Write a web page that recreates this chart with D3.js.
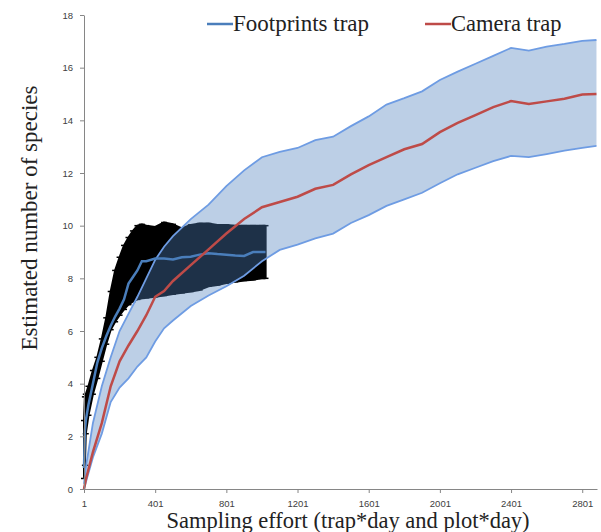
<!DOCTYPE html>
<html>
<head>
<meta charset="utf-8">
<script src="https://cdn.jsdelivr.net/npm/d3@7"></script>
<style>
  body { margin: 0; background: #fff; }
  .axis path, .axis line { stroke: #868686; }
  .axis text { font-family: "Liberation Sans", Arial, sans-serif; font-size: 9.5px; fill: #404040; }
  .title { font-family: "Liberation Serif", serif; fill: #222; }
</style>
</head>
<body>
<div id="chart"></div>
<script>
// tick labels
const xTickValues = [1, 401, 801, 1201, 1601, 2001, 2401, 2801];
const yTickValues = [0, 2, 4, 6, 8, 10, 12, 14, 16, 18];

// Camera trap: sampling effort, mean and 95% CI
const cameraEffort = [1, 11, 51, 101, 151, 201, 251, 301, 351, 401, 451, 501, 601, 701, 801, 901, 1001, 1101, 1201, 1301, 1401, 1501, 1601, 1701, 1801, 1901, 2001, 2101, 2201, 2301, 2401, 2501, 2601, 2701, 2801, 2881];
const cameraMean  = [0, 0.35, 1.4, 2.5, 3.9, 4.85, 5.45, 6.0, 6.6, 7.3, 7.52, 7.9, 8.5, 9.1, 9.7, 10.25, 10.7, 10.9, 11.1, 11.4, 11.55, 11.95, 12.3, 12.6, 12.9, 13.1, 13.55, 13.9, 14.2, 14.5, 14.73, 14.62, 14.72, 14.82, 14.98, 15.0];
const cameraUpper = [0.2, 0.8, 2.5, 3.9, 5.0, 6.0, 6.65, 7.3, 8.0, 8.7, 9.2, 9.6, 10.25, 10.8, 11.5, 12.1, 12.6, 12.8, 12.95, 13.25, 13.38, 13.78, 14.15, 14.6, 14.84, 15.1, 15.53, 15.85, 16.15, 16.45, 16.75, 16.65, 16.8, 16.9, 17.02, 17.05];
const cameraLower = [0, 0.25, 1.2, 2.1, 3.3, 3.85, 4.2, 4.65, 5.0, 5.6, 6.1, 6.4, 6.95, 7.35, 7.7, 8.1, 8.65, 9.08, 9.28, 9.52, 9.7, 10.1, 10.4, 10.75, 11.0, 11.25, 11.61, 11.95, 12.2, 12.45, 12.65, 12.6, 12.72, 12.85, 12.95, 13.03];

// Footprints trap: sampling effort, mean and 95% CI
const footEffort = [1, 6, 11, 26, 51, 76, 101, 126, 151, 176, 201, 226, 251, 276, 301, 326, 351, 401, 451, 501, 551, 601, 651, 701, 751, 801, 851, 901, 951, 1001, 1021];
const footMean  = [0.8, 2.2, 2.6, 3.2, 4.0, 4.8, 5.35, 5.8, 6.2, 6.55, 6.85, 7.2, 7.8, 8.05, 8.3, 8.65, 8.65, 8.75, 8.75, 8.72, 8.8, 8.82, 8.9, 8.95, 8.92, 8.9, 8.87, 8.85, 9.0, 9.0, 9.0];
const footUpper = [2.6, 3.5, 3.6, 3.9, 4.5, 5.0, 5.7, 6.5, 7.5, 8.3, 8.8, 9.25, 9.55, 9.8, 10.0, 10.05, 10.0, 9.95, 10.12, 10.05, 9.9, 10.03, 10.08, 10.08, 10.03, 10.03, 10.0, 10.0, 10.0, 10.0, 10.0];
const footLower = [0.4, 0.9, 2.1, 2.8, 3.6, 4.2, 4.85, 5.5, 6.05, 6.35, 6.6, 6.82, 7.0, 7.12, 7.2, 7.24, 7.26, 7.3, 7.35, 7.4, 7.45, 7.5, 7.56, 7.7, 7.75, 7.82, 7.87, 7.92, 7.95, 8.0, 8.0];

class SpeciesCurveChart {
  constructor(_config) {
    this.config = _config;
    this.initVis();
  }

  initVis() {
    let vis = this;

    vis.svg = d3.select(vis.config.parentElement)
      .append('svg')
      .attr('width', 601)
      .attr('height', 532);

    vis.xScale = d3.scaleLinear().domain([1, 2884]).range([84, 597]);
    vis.yScale = d3.scaleLinear().domain([0, 18]).range([489, 15]);

    vis.camera = cameraEffort.map((x, i) => ({ x: x, mean: cameraMean[i], hi: cameraUpper[i], lo: cameraLower[i] }));
    vis.foot = footEffort.map((x, i) => ({ x: x, mean: footMean[i], hi: footUpper[i], lo: footLower[i] }));

    vis.updateVis();
  }

  updateVis() {
    let vis = this;
    const x = vis.xScale, y = vis.yScale;

    const band = d3.area().x(d => x(d.x)).y0(d => y(d.lo)).y1(d => y(d.hi));
    const lineOf = key => d3.line().x(d => x(d.x)).y(d => y(d[key]));

    // footprints error bars (black)
    vis.svg.append('path')
      .datum(vis.foot)
      .attr('d', band)
      .attr('fill', '#000')
      .attr('stroke', '#000')
      .attr('stroke-width', 2)
      .attr('stroke-linejoin', 'bevel');

    // error bar caps
    const caps = vis.foot.flatMap(d => [d.hi, d.lo].map(v => ({ x: d.x, v: v })));
    vis.svg.append('g').selectAll('line').data(caps).join('line')
      .attr('x1', d => x(d.x) - 3).attr('x2', d => x(d.x) + 3)
      .attr('y1', d => y(d.v)).attr('y2', d => y(d.v))
      .attr('stroke', '#000').attr('stroke-width', 1.5);

    vis.svg.append('line')
      .attr('x1', x(1021)).attr('x2', x(1021))
      .attr('y1', y(10)).attr('y2', y(8))
      .attr('stroke', '#000').attr('stroke-width', 1.5);

    // camera error bars (translucent blue)
    vis.svg.append('path')
      .datum(vis.camera)
      .attr('d', band)
      .attr('fill', '#4f81bd')
      .attr('fill-opacity', 0.38);

    ['hi', 'lo'].forEach(k => {
      vis.svg.append('path')
        .datum(vis.camera)
        .attr('d', lineOf(k))
        .attr('fill', 'none')
        .attr('stroke', '#6e9ce3')
        .attr('stroke-width', 1.8);
    });

    // mean curves
    vis.svg.append('path')
      .datum(vis.foot)
      .attr('d', lineOf('mean'))
      .attr('fill', 'none')
      .attr('stroke', '#4a7ebb')
      .attr('stroke-width', 2.5);

    vis.svg.append('path')
      .datum(vis.camera)
      .attr('d', lineOf('mean'))
      .attr('fill', 'none')
      .attr('stroke', '#be4b48')
      .attr('stroke-width', 2.5);

    // axes
    vis.svg.append('g')
      .attr('class', 'axis')
      .attr('transform', 'translate(84,0)')
      .call(d3.axisLeft(y).tickValues(yTickValues).tickSize(4).tickSizeOuter(0).tickPadding(7));

    vis.svg.append('g')
      .attr('class', 'axis')
      .attr('transform', 'translate(0,489)')
      .call(d3.axisBottom(x).tickValues(xTickValues).tickSize(4).tickSizeOuter(0).tickPadding(7).tickFormat(d3.format('d')));

    // axis titles
    vis.svg.append('text')
      .attr('class', 'title')
      .attr('x', 348).attr('y', 528)
      .attr('text-anchor', 'middle')
      .style('font-size', '22.5px')
      .text('Sampling effort (trap*day and plot*day)');

    vis.svg.append('text')
      .attr('class', 'title')
      .attr('transform', 'translate(37,218) rotate(-90)')
      .attr('text-anchor', 'middle')
      .style('font-size', '23px')
      .text('Estimated number of species');

    // legend
    const legend = [
      { name: 'Footprints trap', color: '#4a7ebb', x: 207, size: 23 },
      { name: 'Camera trap', color: '#be4b48', x: 425, size: 22.5 }
    ];
    const lg = vis.svg.append('g').selectAll('g').data(legend).join('g')
      .attr('transform', d => `translate(${d.x},24)`);
    lg.append('line').attr('x1', 0).attr('x2', 26)
      .attr('stroke', d => d.color).attr('stroke-width', 2.5);
    lg.append('text').attr('class', 'title')
      .attr('x', 26).attr('y', 7)
      .style('font-size', d => d.size + 'px')
      .text(d => d.name);
  }
}

new SpeciesCurveChart({ parentElement: '#chart' });
</script>
</body>
</html>
